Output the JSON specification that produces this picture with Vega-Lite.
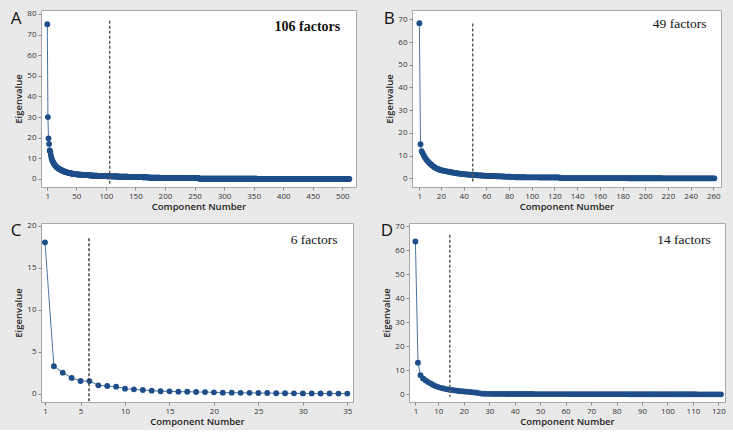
{
"$schema":"https://vega.github.io/schema/vega-lite/v6.json",
"background":"#e9e9e9",
"padding":{"left":10,"top":9,"right":8,"bottom":4},
"config":{
"font":"Open Sans",
"view":{"fill":"white","stroke":"#a8a8a8","strokeWidth":1},
"axis":{"grid":false,"domain":false,"tickColor":"#8a8a8a","tickSize":3,"labelFontSize":8,"labelColor":"#333333","titleFontSize":9.5,"titleFontWeight":600,"titleColor":"#222222","labelPadding":2,"titlePadding":3,"labelOverlap":false,"labelFlush":false},
"axisX":{"titlePadding":1},
"title":{"fontSize":17,"fontWeight":400,"font":"Open Sans","color":"#111111","anchor":"start","frame":"bounds","offset":0}
},
"datasets":{
"A":[
{"x":1,"y":75},{"x":2,"y":30},{"x":3,"y":19.7},{"x":4,"y":17},{"x":5,"y":13.8},{"x":6,"y":13.2},{"x":7,"y":11.5},{"x":8,"y":10.2},{"x":9,"y":9.3},{"x":10,"y":8.6},
{"x":11,"y":8.0},{"x":12,"y":7.5},{"x":13,"y":7.0},{"x":14,"y":6.6},{"x":15,"y":6.3},{"x":16,"y":6.0},{"x":17,"y":5.7},{"x":18,"y":5.4},{"x":19,"y":5.2},{"x":20,"y":5.0},
{"x":21,"y":4.85},{"x":22,"y":4.7},{"x":23,"y":4.55},{"x":24,"y":4.4},{"x":25,"y":4.25},{"x":26,"y":4.1},{"x":27,"y":3.95},{"x":28,"y":3.8},{"x":29,"y":3.7},{"x":30,"y":3.6},
{"x":31,"y":3.5},{"x":32,"y":3.4},{"x":33,"y":3.3},{"x":34,"y":3.2},{"x":35,"y":3.1},{"x":36,"y":3.02},{"x":37,"y":2.95},{"x":38,"y":2.88},{"x":39,"y":2.81},{"x":40,"y":2.75},
{"x":41,"y":2.69},{"x":42,"y":2.63},{"x":43,"y":2.58},{"x":44,"y":2.53},{"x":45,"y":2.48},{"x":46,"y":2.43},{"x":47,"y":2.38},{"x":48,"y":2.34},{"x":49,"y":2.3},{"x":50,"y":2.26},
{"x":51,"y":2.22},{"x":52,"y":2.19},{"x":53,"y":2.16},{"x":54,"y":2.13},{"x":55,"y":2.1},{"x":56,"y":2.08},{"x":57,"y":2.06},{"x":58,"y":2.04},{"x":59,"y":2.02},{"x":60,"y":2.0},
{"x":61,"y":1.98},{"x":62,"y":1.96},{"x":63,"y":1.94},{"x":64,"y":1.92},{"x":65,"y":1.9},{"x":66,"y":1.88},{"x":67,"y":1.86},{"x":68,"y":1.84},{"x":69,"y":1.82},{"x":70,"y":1.8},
{"x":71,"y":1.78},{"x":72,"y":1.76},{"x":73,"y":1.74},{"x":74,"y":1.72},{"x":75,"y":1.7},{"x":76,"y":1.68},{"x":77,"y":1.66},{"x":78,"y":1.64},{"x":79,"y":1.62},{"x":80,"y":1.6},
{"x":81,"y":1.59},{"x":82,"y":1.58},{"x":83,"y":1.56},{"x":84,"y":1.55},{"x":85,"y":1.54},{"x":86,"y":1.52},{"x":87,"y":1.51},{"x":88,"y":1.5},{"x":89,"y":1.48},{"x":90,"y":1.47},
{"x":91,"y":1.46},{"x":92,"y":1.45},{"x":93,"y":1.43},{"x":94,"y":1.42},{"x":95,"y":1.41},{"x":96,"y":1.4},{"x":97,"y":1.39},{"x":98,"y":1.38},{"x":99,"y":1.36},{"x":100,"y":1.35},
{"x":101,"y":1.34},{"x":102,"y":1.33},{"x":103,"y":1.32},{"x":104,"y":1.31},{"x":105,"y":1.31},{"x":106,"y":1.3},{"x":107,"y":1.29},{"x":108,"y":1.28},{"x":109,"y":1.27},{"x":110,"y":1.27},
{"x":111,"y":1.26},{"x":112,"y":1.25},{"x":113,"y":1.24},{"x":114,"y":1.23},{"x":115,"y":1.23},{"x":116,"y":1.22},{"x":117,"y":1.21},{"x":118,"y":1.2},{"x":119,"y":1.19},{"x":120,"y":1.19},
{"x":121,"y":1.18},{"x":122,"y":1.17},{"x":123,"y":1.16},{"x":124,"y":1.15},{"x":125,"y":1.15},{"x":126,"y":1.14},{"x":127,"y":1.13},{"x":128,"y":1.12},{"x":129,"y":1.11},{"x":130,"y":1.11},
{"x":131,"y":1.1},{"x":132,"y":1.09},{"x":133,"y":1.08},{"x":134,"y":1.07},{"x":135,"y":1.07},{"x":136,"y":1.06},{"x":137,"y":1.05},{"x":138,"y":1.04},{"x":139,"y":1.03},{"x":140,"y":1.03},
{"x":141,"y":1.02},{"x":142,"y":1.01},{"x":143,"y":1.0},{"x":144,"y":0.99},{"x":145,"y":0.99},{"x":146,"y":0.98},{"x":147,"y":0.97},{"x":148,"y":0.96},{"x":149,"y":0.95},{"x":150,"y":0.95},
{"x":151,"y":0.94},{"x":152,"y":0.93},{"x":153,"y":0.92},{"x":154,"y":0.91},{"x":155,"y":0.91},{"x":156,"y":0.9},{"x":157,"y":0.89},{"x":158,"y":0.88},{"x":159,"y":0.87},{"x":160,"y":0.87},
{"x":161,"y":0.86},{"x":162,"y":0.85},{"x":163,"y":0.84},{"x":164,"y":0.84},{"x":165,"y":0.83},{"x":166,"y":0.83},{"x":167,"y":0.82},{"x":168,"y":0.82},{"x":169,"y":0.81},{"x":170,"y":0.81},
{"x":171,"y":0.8},{"x":172,"y":0.8},{"x":173,"y":0.62},{"x":174,"y":0.62},{"x":175,"y":0.61},{"x":176,"y":0.61},{"x":177,"y":0.61},{"x":178,"y":0.6},{"x":179,"y":0.6},{"x":180,"y":0.6},
{"x":181,"y":0.6},{"x":182,"y":0.59},{"x":183,"y":0.59},{"x":184,"y":0.59},{"x":185,"y":0.58},{"x":186,"y":0.58},{"x":187,"y":0.58},{"x":188,"y":0.58},{"x":189,"y":0.57},{"x":190,"y":0.57},
{"x":191,"y":0.57},{"x":192,"y":0.56},{"x":193,"y":0.56},{"x":194,"y":0.56},{"x":195,"y":0.56},{"x":196,"y":0.55},{"x":197,"y":0.55},{"x":198,"y":0.55},{"x":199,"y":0.54},{"x":200,"y":0.54},
{"x":201,"y":0.54},{"x":202,"y":0.54},{"x":203,"y":0.53},{"x":204,"y":0.53},{"x":205,"y":0.53},{"x":206,"y":0.52},{"x":207,"y":0.52},{"x":208,"y":0.52},{"x":209,"y":0.52},{"x":210,"y":0.51},
{"x":211,"y":0.51},{"x":212,"y":0.51},{"x":213,"y":0.5},{"x":214,"y":0.5},{"x":215,"y":0.5},{"x":216,"y":0.5},{"x":217,"y":0.49},{"x":218,"y":0.49},{"x":219,"y":0.49},{"x":220,"y":0.48},
{"x":221,"y":0.48},{"x":222,"y":0.48},{"x":223,"y":0.48},{"x":224,"y":0.47},{"x":225,"y":0.47},{"x":226,"y":0.47},{"x":227,"y":0.46},{"x":228,"y":0.46},{"x":229,"y":0.46},{"x":230,"y":0.46},
{"x":231,"y":0.45},{"x":232,"y":0.45},{"x":233,"y":0.45},{"x":234,"y":0.45},{"x":235,"y":0.44},{"x":236,"y":0.44},{"x":237,"y":0.44},{"x":238,"y":0.44},{"x":239,"y":0.44},{"x":240,"y":0.43},
{"x":241,"y":0.43},{"x":242,"y":0.43},{"x":243,"y":0.43},{"x":244,"y":0.43},{"x":245,"y":0.42},{"x":246,"y":0.42},{"x":247,"y":0.42},{"x":248,"y":0.42},{"x":249,"y":0.42},{"x":250,"y":0.42},
{"x":251,"y":0.41},{"x":252,"y":0.41},{"x":253,"y":0.41},{"x":254,"y":0.41},{"x":255,"y":0.41},{"x":256,"y":0.4},{"x":257,"y":0.4},{"x":258,"y":0.12},{"x":259,"y":0.12},{"x":260,"y":0.12},
{"x":261,"y":0.12},{"x":262,"y":0.12},{"x":263,"y":0.12},{"x":264,"y":0.12},{"x":265,"y":0.12},{"x":266,"y":0.12},{"x":267,"y":0.12},{"x":268,"y":0.12},{"x":269,"y":0.12},{"x":270,"y":0.12},
{"x":271,"y":0.12},{"x":272,"y":0.12},{"x":273,"y":0.12},{"x":274,"y":0.12},{"x":275,"y":0.12},{"x":276,"y":0.11},{"x":277,"y":0.11},{"x":278,"y":0.11},{"x":279,"y":0.11},{"x":280,"y":0.11},
{"x":281,"y":0.11},{"x":282,"y":0.11},{"x":283,"y":0.11},{"x":284,"y":0.11},{"x":285,"y":0.11},{"x":286,"y":0.11},{"x":287,"y":0.11},{"x":288,"y":0.11},{"x":289,"y":0.11},{"x":290,"y":0.11},
{"x":291,"y":0.11},{"x":292,"y":0.11},{"x":293,"y":0.11},{"x":294,"y":0.11},{"x":295,"y":0.11},{"x":296,"y":0.1},{"x":297,"y":0.1},{"x":298,"y":0.1},{"x":299,"y":0.1},{"x":300,"y":0.1},
{"x":301,"y":0.1},{"x":302,"y":0.1},{"x":303,"y":0.1},{"x":304,"y":0.1},{"x":305,"y":0.1},{"x":306,"y":0.1},{"x":307,"y":0.1},{"x":308,"y":0.1},{"x":309,"y":0.1},{"x":310,"y":0.1},
{"x":311,"y":0.1},{"x":312,"y":0.1},{"x":313,"y":0.1},{"x":314,"y":0.1},{"x":315,"y":0.1},{"x":316,"y":0.09},{"x":317,"y":0.09},{"x":318,"y":0.09},{"x":319,"y":0.09},{"x":320,"y":0.09},
{"x":321,"y":0.09},{"x":322,"y":0.09},{"x":323,"y":0.09},{"x":324,"y":0.09},{"x":325,"y":0.09},{"x":326,"y":0.09},{"x":327,"y":0.09},{"x":328,"y":0.09},{"x":329,"y":0.09},{"x":330,"y":0.09},
{"x":331,"y":0.09},{"x":332,"y":0.09},{"x":333,"y":0.09},{"x":334,"y":0.09},{"x":335,"y":0.09},{"x":336,"y":0.08},{"x":337,"y":0.08},{"x":338,"y":0.08},{"x":339,"y":0.08},{"x":340,"y":0.08},
{"x":341,"y":0.08},{"x":342,"y":0.08},{"x":343,"y":0.08},{"x":344,"y":0.08},{"x":345,"y":0.08},{"x":346,"y":0.08},{"x":347,"y":0.08},{"x":348,"y":0.08},{"x":349,"y":0.08},{"x":350,"y":0.08},
{"x":351,"y":0.08},{"x":352,"y":0.08},{"x":353,"y":0.08},{"x":354,"y":0.08},{"x":355,"y":0.08},{"x":356,"y":0.07},{"x":357,"y":0.07},{"x":358,"y":0.07},{"x":359,"y":0.07},{"x":360,"y":0.07},
{"x":361,"y":0.07},{"x":362,"y":0.07},{"x":363,"y":0.07},{"x":364,"y":0.07},{"x":365,"y":0.07},{"x":366,"y":0.07},{"x":367,"y":0.07},{"x":368,"y":0.07},{"x":369,"y":0.07},{"x":370,"y":0.07},
{"x":371,"y":0.07},{"x":372,"y":0.07},{"x":373,"y":0.07},{"x":374,"y":0.07},{"x":375,"y":0.07},{"x":376,"y":0.06},{"x":377,"y":0.06},{"x":378,"y":0.06},{"x":379,"y":0.06},{"x":380,"y":0.06},
{"x":381,"y":0.06},{"x":382,"y":0.06},{"x":383,"y":0.06},{"x":384,"y":0.06},{"x":385,"y":0.06},{"x":386,"y":0.06},{"x":387,"y":0.06},{"x":388,"y":0.06},{"x":389,"y":0.06},{"x":390,"y":0.06},
{"x":391,"y":0.06},{"x":392,"y":0.06},{"x":393,"y":0.06},{"x":394,"y":0.06},{"x":395,"y":0.06},{"x":396,"y":0.05},{"x":397,"y":0.05},{"x":398,"y":0.05},{"x":399,"y":0.05},{"x":400,"y":0.05},
{"x":401,"y":0.05},{"x":402,"y":0.05},{"x":403,"y":0.05},{"x":404,"y":0.05},{"x":405,"y":0.05},{"x":406,"y":0.05},{"x":407,"y":0.05},{"x":408,"y":0.05},{"x":409,"y":0.05},{"x":410,"y":0.05},
{"x":411,"y":0.05},{"x":412,"y":0.05},{"x":413,"y":0.05},{"x":414,"y":0.05},{"x":415,"y":0.05},{"x":416,"y":0.04},{"x":417,"y":0.04},{"x":418,"y":0.04},{"x":419,"y":0.04},{"x":420,"y":0.04},
{"x":421,"y":0.04},{"x":422,"y":0.04},{"x":423,"y":0.04},{"x":424,"y":0.04},{"x":425,"y":0.04},{"x":426,"y":0.04},{"x":427,"y":0.04},{"x":428,"y":0.04},{"x":429,"y":0.04},{"x":430,"y":0.04},
{"x":431,"y":0.04},{"x":432,"y":0.04},{"x":433,"y":0.04},{"x":434,"y":0.04},{"x":435,"y":0.04},{"x":436,"y":0.03},{"x":437,"y":0.03},{"x":438,"y":0.03},{"x":439,"y":0.03},{"x":440,"y":0.03},
{"x":441,"y":0.03},{"x":442,"y":0.03},{"x":443,"y":0.03},{"x":444,"y":0.03},{"x":445,"y":0.03},{"x":446,"y":0.03},{"x":447,"y":0.03},{"x":448,"y":0.03},{"x":449,"y":0.03},{"x":450,"y":0.03},
{"x":451,"y":0.03},{"x":452,"y":0.03},{"x":453,"y":0.03},{"x":454,"y":0.03},{"x":455,"y":0.03},{"x":456,"y":0.02},{"x":457,"y":0.02},{"x":458,"y":0.02},{"x":459,"y":0.02},{"x":460,"y":0.02},
{"x":461,"y":0.02},{"x":462,"y":0.02},{"x":463,"y":0.02},{"x":464,"y":0.02},{"x":465,"y":0.02},{"x":466,"y":0.02},{"x":467,"y":0.02},{"x":468,"y":0.02},{"x":469,"y":0.02},{"x":470,"y":0.02},
{"x":471,"y":0.02},{"x":472,"y":0.02},{"x":473,"y":0.02},{"x":474,"y":0.02},{"x":475,"y":0.02},{"x":476,"y":0.02},{"x":477,"y":0.02},{"x":478,"y":0.02},{"x":479,"y":0.02},{"x":480,"y":0.02},
{"x":481,"y":0.01},{"x":482,"y":0.01},{"x":483,"y":0.01},{"x":484,"y":0.01},{"x":485,"y":0.01},{"x":486,"y":0.01},{"x":487,"y":0.01},{"x":488,"y":0.01},{"x":489,"y":0.01},{"x":490,"y":0.01},
{"x":491,"y":0.01},{"x":492,"y":0.01},{"x":493,"y":0.01},{"x":494,"y":0.01},{"x":495,"y":0.01},{"x":496,"y":0.01},{"x":497,"y":0.01},{"x":498,"y":0.01},{"x":499,"y":0.01},{"x":500,"y":0.01},
{"x":501,"y":0.01},{"x":502,"y":0.01},{"x":503,"y":0.01},{"x":504,"y":0.01},{"x":505,"y":0.01},{"x":506,"y":0.01},{"x":507,"y":0.01},{"x":508,"y":0.01},{"x":509,"y":0.01},{"x":510,"y":0.01},
{"x":511,"y":0.01},{"x":512,"y":0.01}
],
"B":[
{"x":1,"y":68.3},{"x":2,"y":15},{"x":3,"y":12},{"x":4,"y":11},{"x":5,"y":10},{"x":6,"y":9.1},{"x":7,"y":8.4},{"x":8,"y":7.8},{"x":9,"y":7.2},{"x":10,"y":6.7},
{"x":11,"y":6.2},{"x":12,"y":5.8},{"x":13,"y":5.4},{"x":14,"y":5.0},{"x":15,"y":4.7},{"x":16,"y":4.4},{"x":17,"y":4.2},{"x":18,"y":4.0},{"x":19,"y":3.8},{"x":20,"y":3.6},
{"x":21,"y":3.5},{"x":22,"y":3.4},{"x":23,"y":3.3},{"x":24,"y":3.2},{"x":25,"y":3.1},{"x":26,"y":3.0},{"x":27,"y":2.9},{"x":28,"y":2.8},{"x":29,"y":2.7},{"x":30,"y":2.6},
{"x":31,"y":2.5},{"x":32,"y":2.42},{"x":33,"y":2.34},{"x":34,"y":2.26},{"x":35,"y":2.18},{"x":36,"y":2.1},{"x":37,"y":2.04},{"x":38,"y":1.98},{"x":39,"y":1.92},{"x":40,"y":1.86},
{"x":41,"y":1.8},{"x":42,"y":1.76},{"x":43,"y":1.72},{"x":44,"y":1.68},{"x":45,"y":1.64},{"x":46,"y":1.6},{"x":47,"y":1.56},{"x":48,"y":1.52},{"x":49,"y":1.48},{"x":50,"y":1.44},
{"x":51,"y":1.4},{"x":52,"y":1.37},{"x":53,"y":1.34},{"x":54,"y":1.31},{"x":55,"y":1.28},{"x":56,"y":1.25},{"x":57,"y":1.22},{"x":58,"y":1.19},{"x":59,"y":1.16},{"x":60,"y":1.13},
{"x":61,"y":1.1},{"x":62,"y":1.08},{"x":63,"y":1.06},{"x":64,"y":1.04},{"x":65,"y":1.02},{"x":66,"y":1.0},{"x":67,"y":0.98},{"x":68,"y":0.96},{"x":69,"y":0.94},{"x":70,"y":0.92},
{"x":71,"y":0.9},{"x":72,"y":0.88},{"x":73,"y":0.86},{"x":74,"y":0.84},{"x":75,"y":0.82},{"x":76,"y":0.8},{"x":77,"y":0.78},{"x":78,"y":0.76},{"x":79,"y":0.74},{"x":80,"y":0.72},
{"x":81,"y":0.7},{"x":82,"y":0.69},{"x":83,"y":0.68},{"x":84,"y":0.67},{"x":85,"y":0.66},{"x":86,"y":0.5},{"x":87,"y":0.5},{"x":88,"y":0.5},{"x":89,"y":0.49},{"x":90,"y":0.49},
{"x":91,"y":0.49},{"x":92,"y":0.48},{"x":93,"y":0.48},{"x":94,"y":0.48},{"x":95,"y":0.47},{"x":96,"y":0.47},{"x":97,"y":0.47},{"x":98,"y":0.46},{"x":99,"y":0.46},{"x":100,"y":0.46},
{"x":101,"y":0.45},{"x":102,"y":0.45},{"x":103,"y":0.45},{"x":104,"y":0.44},{"x":105,"y":0.44},{"x":106,"y":0.44},{"x":107,"y":0.43},{"x":108,"y":0.43},{"x":109,"y":0.43},{"x":110,"y":0.42},
{"x":111,"y":0.42},{"x":112,"y":0.42},{"x":113,"y":0.42},{"x":114,"y":0.41},{"x":115,"y":0.41},{"x":116,"y":0.41},{"x":117,"y":0.41},{"x":118,"y":0.4},{"x":119,"y":0.4},{"x":120,"y":0.4},
{"x":121,"y":0.4},{"x":122,"y":0.4},{"x":123,"y":0.4},{"x":124,"y":0.4},{"x":125,"y":0.12},{"x":126,"y":0.12},{"x":127,"y":0.12},{"x":128,"y":0.12},{"x":129,"y":0.12},{"x":130,"y":0.12},
{"x":131,"y":0.12},{"x":132,"y":0.12},{"x":133,"y":0.12},{"x":134,"y":0.12},{"x":135,"y":0.11},{"x":136,"y":0.11},{"x":137,"y":0.11},{"x":138,"y":0.11},{"x":139,"y":0.11},{"x":140,"y":0.11},
{"x":141,"y":0.11},{"x":142,"y":0.11},{"x":143,"y":0.11},{"x":144,"y":0.11},{"x":145,"y":0.1},{"x":146,"y":0.1},{"x":147,"y":0.1},{"x":148,"y":0.1},{"x":149,"y":0.1},{"x":150,"y":0.1},
{"x":151,"y":0.1},{"x":152,"y":0.1},{"x":153,"y":0.1},{"x":154,"y":0.1},{"x":155,"y":0.09},{"x":156,"y":0.09},{"x":157,"y":0.09},{"x":158,"y":0.09},{"x":159,"y":0.09},{"x":160,"y":0.09},
{"x":161,"y":0.09},{"x":162,"y":0.09},{"x":163,"y":0.09},{"x":164,"y":0.09},{"x":165,"y":0.08},{"x":166,"y":0.08},{"x":167,"y":0.08},{"x":168,"y":0.08},{"x":169,"y":0.08},{"x":170,"y":0.08},
{"x":171,"y":0.08},{"x":172,"y":0.08},{"x":173,"y":0.08},{"x":174,"y":0.08},{"x":175,"y":0.07},{"x":176,"y":0.07},{"x":177,"y":0.07},{"x":178,"y":0.07},{"x":179,"y":0.07},{"x":180,"y":0.07},
{"x":181,"y":0.07},{"x":182,"y":0.07},{"x":183,"y":0.07},{"x":184,"y":0.07},{"x":185,"y":0.06},{"x":186,"y":0.06},{"x":187,"y":0.06},{"x":188,"y":0.06},{"x":189,"y":0.06},{"x":190,"y":0.06},
{"x":191,"y":0.06},{"x":192,"y":0.06},{"x":193,"y":0.06},{"x":194,"y":0.06},{"x":195,"y":0.05},{"x":196,"y":0.05},{"x":197,"y":0.05},{"x":198,"y":0.05},{"x":199,"y":0.05},{"x":200,"y":0.05},
{"x":201,"y":0.05},{"x":202,"y":0.05},{"x":203,"y":0.05},{"x":204,"y":0.05},{"x":205,"y":0.04},{"x":206,"y":0.04},{"x":207,"y":0.04},{"x":208,"y":0.04},{"x":209,"y":0.04},{"x":210,"y":0.04},
{"x":211,"y":0.04},{"x":212,"y":0.04},{"x":213,"y":0.04},{"x":214,"y":0.04},{"x":215,"y":0.03},{"x":216,"y":0.03},{"x":217,"y":0.03},{"x":218,"y":0.03},{"x":219,"y":0.03},{"x":220,"y":0.03},
{"x":221,"y":0.03},{"x":222,"y":0.03},{"x":223,"y":0.03},{"x":224,"y":0.03},{"x":225,"y":0.03},{"x":226,"y":0.03},{"x":227,"y":0.02},{"x":228,"y":0.02},{"x":229,"y":0.02},{"x":230,"y":0.02},
{"x":231,"y":0.02},{"x":232,"y":0.02},{"x":233,"y":0.02},{"x":234,"y":0.02},{"x":235,"y":0.02},{"x":236,"y":0.02},{"x":237,"y":0.02},{"x":238,"y":0.02},{"x":239,"y":0.02},{"x":240,"y":0.02},
{"x":241,"y":0.01},{"x":242,"y":0.01},{"x":243,"y":0.01},{"x":244,"y":0.01},{"x":245,"y":0.01},{"x":246,"y":0.01},{"x":247,"y":0.01},{"x":248,"y":0.01},{"x":249,"y":0.01},{"x":250,"y":0.01},
{"x":251,"y":0.01},{"x":252,"y":0.01},{"x":253,"y":0.01},{"x":254,"y":0.01},{"x":255,"y":0.01},{"x":256,"y":0.01},{"x":257,"y":0.01},{"x":258,"y":0.01},{"x":259,"y":0.01},{"x":260,"y":0.01},
{"x":261,"y":0.01}
],
"C":[
{"x":1,"y":18.0},{"x":2,"y":3.26},{"x":3,"y":2.5},{"x":4,"y":1.87},{"x":5,"y":1.51},{"x":6,"y":1.5},{"x":7,"y":0.99},{"x":8,"y":0.91},{"x":9,"y":0.83},{"x":10,"y":0.6},
{"x":11,"y":0.52},{"x":12,"y":0.44},{"x":13,"y":0.36},{"x":14,"y":0.29},{"x":15,"y":0.28},{"x":16,"y":0.24},{"x":17,"y":0.23},{"x":18,"y":0.2},{"x":19,"y":0.19},{"x":20,"y":0.16},
{"x":21,"y":0.12},{"x":22,"y":0.12},{"x":23,"y":0.1},{"x":24,"y":0.1},{"x":25,"y":0.08},{"x":26,"y":0.08},{"x":27,"y":0.05},{"x":28,"y":0.05},{"x":29,"y":0.04},{"x":30,"y":0.03},
{"x":31,"y":0.03},{"x":32,"y":0.02},{"x":33,"y":0.02},{"x":34,"y":0.01},{"x":35,"y":0.01}
],
"D":[
{"x":1,"y":63.7},{"x":2,"y":13.2},{"x":3,"y":8.0},{"x":4,"y":6.6},{"x":5,"y":5.8},{"x":6,"y":5.1},{"x":7,"y":4.5},{"x":8,"y":3.9},{"x":9,"y":3.4},{"x":10,"y":3.0},
{"x":11,"y":2.7},{"x":12,"y":2.45},{"x":13,"y":2.2},{"x":14,"y":2.0},{"x":15,"y":1.85},{"x":16,"y":1.7},{"x":17,"y":1.55},{"x":18,"y":1.4},{"x":19,"y":1.3},{"x":20,"y":1.2},
{"x":21,"y":1.1},{"x":22,"y":1.0},{"x":23,"y":0.9},{"x":24,"y":0.8},{"x":25,"y":0.65},{"x":26,"y":0.5},{"x":27,"y":0.3},{"x":28,"y":0.25},{"x":29,"y":0.22},{"x":30,"y":0.2},
{"x":31,"y":0.18},{"x":32,"y":0.18},{"x":33,"y":0.17},{"x":34,"y":0.17},{"x":35,"y":0.16},{"x":36,"y":0.16},{"x":37,"y":0.15},{"x":38,"y":0.15},{"x":39,"y":0.14},{"x":40,"y":0.14},
{"x":41,"y":0.13},{"x":42,"y":0.13},{"x":43,"y":0.13},{"x":44,"y":0.12},{"x":45,"y":0.12},{"x":46,"y":0.12},{"x":47,"y":0.12},{"x":48,"y":0.11},{"x":49,"y":0.11},{"x":50,"y":0.11},
{"x":51,"y":0.11},{"x":52,"y":0.1},{"x":53,"y":0.1},{"x":54,"y":0.1},{"x":55,"y":0.1},{"x":56,"y":0.1},{"x":57,"y":0.09},{"x":58,"y":0.09},{"x":59,"y":0.09},{"x":60,"y":0.09},
{"x":61,"y":0.08},{"x":62,"y":0.08},{"x":63,"y":0.08},{"x":64,"y":0.08},{"x":65,"y":0.08},{"x":66,"y":0.07},{"x":67,"y":0.07},{"x":68,"y":0.07},{"x":69,"y":0.07},{"x":70,"y":0.07},
{"x":71,"y":0.06},{"x":72,"y":0.06},{"x":73,"y":0.06},{"x":74,"y":0.06},{"x":75,"y":0.06},{"x":76,"y":0.06},{"x":77,"y":0.05},{"x":78,"y":0.05},{"x":79,"y":0.05},{"x":80,"y":0.05},
{"x":81,"y":0.05},{"x":82,"y":0.05},{"x":83,"y":0.05},{"x":84,"y":0.05},{"x":85,"y":0.04},{"x":86,"y":0.04},{"x":87,"y":0.04},{"x":88,"y":0.04},{"x":89,"y":0.04},{"x":90,"y":0.04},
{"x":91,"y":0.04},{"x":92,"y":0.04},{"x":93,"y":0.03},{"x":94,"y":0.03},{"x":95,"y":0.03},{"x":96,"y":0.03},{"x":97,"y":0.03},{"x":98,"y":0.03},{"x":99,"y":0.03},{"x":100,"y":0.03},
{"x":101,"y":0.03},{"x":102,"y":0.02},{"x":103,"y":0.02},{"x":104,"y":0.02},{"x":105,"y":0.02},{"x":106,"y":0.02},{"x":107,"y":0.02},{"x":108,"y":0.02},{"x":109,"y":0.02},{"x":110,"y":0.02},
{"x":111,"y":0.02},{"x":112,"y":0.01},{"x":113,"y":0.01},{"x":114,"y":0.01},{"x":115,"y":0.01},{"x":116,"y":0.01},{"x":117,"y":0.01},{"x":118,"y":0.01},{"x":119,"y":0.01},{"x":120,"y":0.01},
{"x":121,"y":0.01}
]
},
"spacing":10,
"vconcat":[
{"hconcat":[
{"width":315,"height":177,
"title":{"text":"A","dx":-3,"dy":22},
"data":{"name":"A"},
"encoding":{
"x":{"field":"x","type":"quantitative","scale":{"domain":[-9.7,523.2],"nice":false,"zero":false},"axis":{"values":[1,50,100,150,200,250,300,350,400,450,500],"title":"Component Number"}},
"y":{"field":"y","type":"quantitative","scale":{"domain":[-3.9,81.9],"nice":false,"zero":false},"axis":{"values":[0,10,20,30,40,50,60,70,80],"title":"Eigenvalue"}}},
"layer":[
{"mark":{"type":"line","color":"#4a74a3","strokeWidth":1}},
{"mark":{"type":"point","filled":true,"color":"#1d4e89","size":34,"opacity":1}},
{"data":{"values":[{"x":106.5,"y":76.7,"y2":-2.4}]},
"mark":{"type":"rule","strokeDash":[3,2],"color":"#555555","strokeWidth":1.4},
"encoding":{"y2":{"field":"y2"}}},
{"data":{"values":[{"x":496.6,"y":73.8,"t":"106 factors"}]},
"mark":{"type":"text","font":"Liberation Serif","fontSize":14,"fontWeight":"bold","align":"right","baseline":"middle","color":"#111111"},
"encoding":{"text":{"field":"t"}}}
]},
{"width":309,"height":177,
"title":{"text":"B","dx":-1,"dy":22},
"data":{"name":"B"},
"encoding":{
"x":{"field":"x","type":"quantitative","scale":{"domain":[-5.5,266.8],"nice":false,"zero":false},"axis":{"values":[1,20,40,60,80,100,120,140,160,180,200,220,240,260],"title":"Component Number"}},
"y":{"field":"y","type":"quantitative","scale":{"domain":[-3.8,74.1],"nice":false,"zero":false},"axis":{"values":[0,10,20,30,40,50,60,70],"title":"Eigenvalue"}}},
"layer":[
{"mark":{"type":"line","color":"#4a74a3","strokeWidth":1}},
{"mark":{"type":"point","filled":true,"color":"#1d4e89","size":34,"opacity":1}},
{"data":{"values":[{"x":48,"y":68.2,"y2":-2.3}]},
"mark":{"type":"rule","strokeDash":[3,2],"color":"#555555","strokeWidth":1.4},
"encoding":{"y2":{"field":"y2"}}},
{"data":{"values":[{"x":254,"y":67.8,"t":"49 factors"}]},
"mark":{"type":"text","font":"Liberation Serif","fontSize":13.5,"align":"right","baseline":"middle","color":"#111111"},
"encoding":{"text":{"field":"t"}}}
]}
],"spacing":26},
{"hconcat":[
{"width":312,"height":179,
"title":{"text":"C","dx":-3,"dy":22},
"data":{"name":"C"},
"encoding":{
"x":{"field":"x","type":"quantitative","scale":{"domain":[0.55,35.64],"nice":false,"zero":false},"axis":{"values":[1,5,10,15,20,25,30,35],"title":"Component Number"}},
"y":{"field":"y","type":"quantitative","scale":{"domain":[-0.99,20.3],"nice":false,"zero":false},"axis":{"values":[0,5,10,15,20],"title":"Eigenvalue"}}},
"layer":[
{"mark":{"type":"line","color":"#4a74a3","strokeWidth":1}},
{"mark":{"type":"point","filled":true,"color":"#1d4e89","size":34,"opacity":1}},
{"data":{"values":[{"x":5.95,"y":18.5,"y2":-0.95}]},
"mark":{"type":"rule","strokeDash":[3,2],"color":"#333333","strokeWidth":1.4},
"encoding":{"y2":{"field":"y2"}}},
{"data":{"values":[{"x":33.9,"y":18.3,"t":"6 factors"}]},
"mark":{"type":"text","font":"Liberation Serif","fontSize":13.5,"align":"right","baseline":"middle","color":"#111111"},
"encoding":{"text":{"field":"t"}}}
]},
{"width":316,"height":179,
"title":{"text":"D","dx":-1,"dy":22},
"data":{"name":"D"},
"encoding":{
"x":{"field":"x","type":"quantitative","scale":{"domain":[-1.52,122.6],"nice":false,"zero":false},"axis":{"values":[1,10,20,30,40,50,60,70,80,90,100,110,120],"title":"Component Number"}},
"y":{"field":"y","type":"quantitative","scale":{"domain":[-3.2,71.4],"nice":false,"zero":false},"axis":{"values":[0,10,20,30,40,50,60,70],"title":"Eigenvalue"}}},
"layer":[
{"mark":{"type":"line","color":"#4a74a3","strokeWidth":1}},
{"mark":{"type":"point","filled":true,"color":"#1d4e89","size":34,"opacity":1}},
{"data":{"values":[{"x":14.5,"y":66.5,"y2":-1.0}]},
"mark":{"type":"rule","strokeDash":[3,2],"color":"#666666","strokeWidth":1.6},
"encoding":{"y2":{"field":"y2"}}},
{"data":{"values":[{"x":117,"y":64.5,"t":"14 factors"}]},
"mark":{"type":"text","font":"Liberation Serif","fontSize":13.5,"align":"right","baseline":"middle","color":"#111111"},
"encoding":{"text":{"field":"t"}}}
]}
],"spacing":26}
]
}
